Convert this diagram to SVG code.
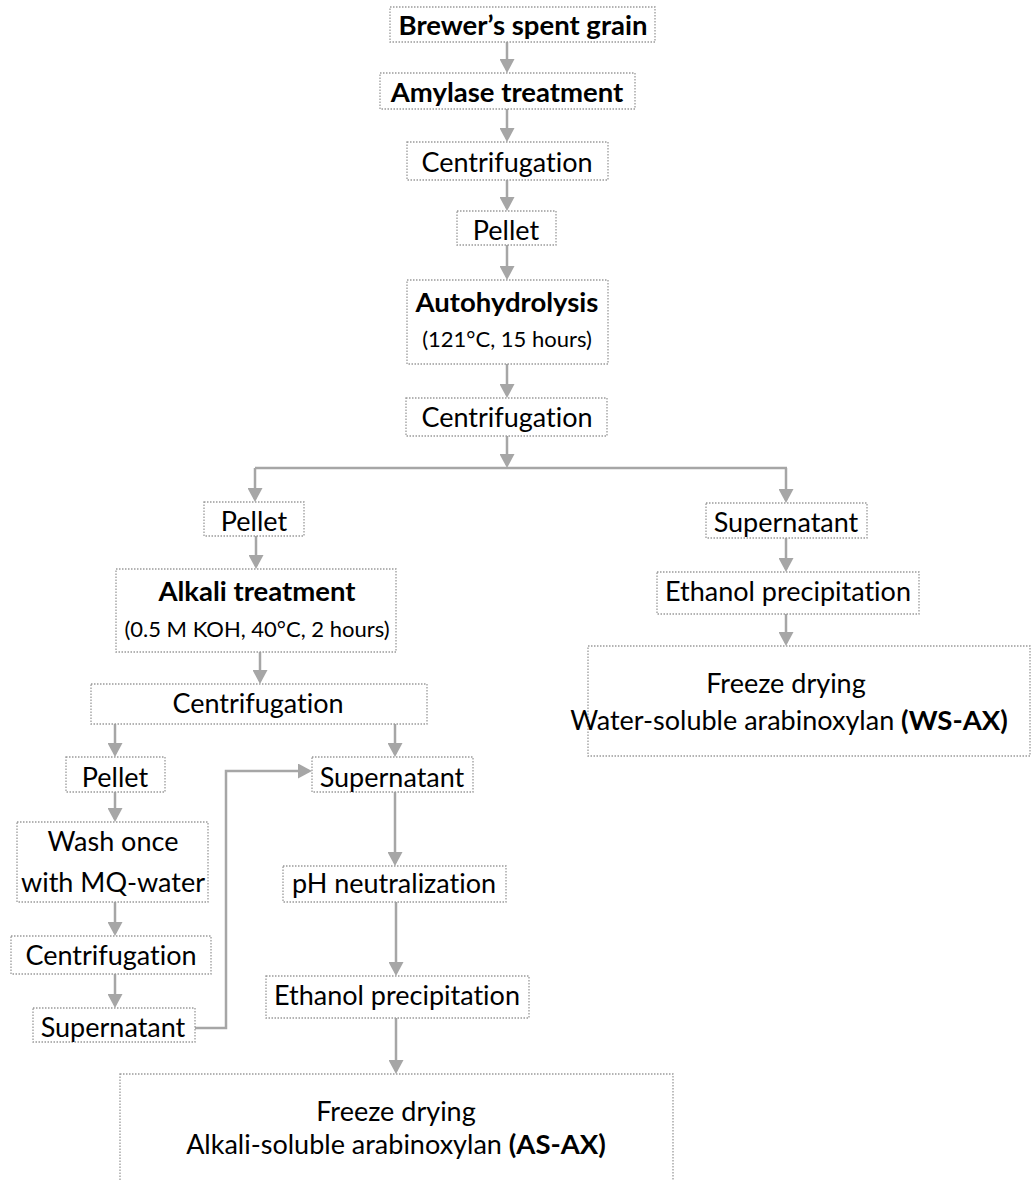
<svg xmlns="http://www.w3.org/2000/svg" width="1036" height="1180" viewBox="0 0 1036 1180">
<style>
.box{fill:#fff;stroke:#9a9a9a;stroke-width:1.3;stroke-dasharray:1.5 1.5}
text{font-family:Lato,"Liberation Sans",sans-serif;font-size:27px;fill:#000;text-anchor:middle;font-variant-ligatures:none}
.b{font-weight:bold;font-size:27.5px}
.s{font-size:22px}
.c{fill:none;stroke:#a6a6a6;stroke-width:2.5}
</style>
<defs>
<marker id="ah" markerUnits="userSpaceOnUse" markerWidth="15" markerHeight="15" refX="11" refY="7.5" orient="auto" viewBox="0 0 15 15">
<path d="M0,0 L14,7.5 L0,15 z" fill="#a6a6a6"/>
</marker>
</defs>
<rect width="1036" height="1180" fill="#fff"/>
<g id="connectors">
<path class="c" d="M507,42 V70" marker-end="url(#ah)"/>
<path class="c" d="M507,109 V139" marker-end="url(#ah)"/>
<path class="c" d="M507,180 V208" marker-end="url(#ah)"/>
<path class="c" d="M507,245 V277" marker-end="url(#ah)"/>
<path class="c" d="M507,364 V395" marker-end="url(#ah)"/>
<path class="c" d="M507,436 V465" marker-end="url(#ah)"/>
<path class="c" d="M255,468 H787"/>
<path class="c" d="M255,468 V499" marker-end="url(#ah)"/>
<path class="c" d="M786,468 V500" marker-end="url(#ah)"/>
<path class="c" d="M786,538 V569" marker-end="url(#ah)"/>
<path class="c" d="M786,614 V643" marker-end="url(#ah)"/>
<path class="c" d="M256,536 V566" marker-end="url(#ah)"/>
<path class="c" d="M260,652 V681" marker-end="url(#ah)"/>
<path class="c" d="M115,724 V754" marker-end="url(#ah)"/>
<path class="c" d="M395,724 V754" marker-end="url(#ah)"/>
<path class="c" d="M115,792 V819" marker-end="url(#ah)"/>
<path class="c" d="M115,902 V933" marker-end="url(#ah)"/>
<path class="c" d="M115,974 V1005" marker-end="url(#ah)"/>
<path class="c" d="M195,1028 H226 V771 H309" marker-end="url(#ah)"/>
<path class="c" d="M395,792 V863" marker-end="url(#ah)"/>
<path class="c" d="M396,902 V973" marker-end="url(#ah)"/>
<path class="c" d="M396,1018 V1071" marker-end="url(#ah)"/>
</g>
<g id="n1"><rect class="box" x="390" y="7" width="265" height="35"/><text class="b" x="523" y="35">Brewer’s spent grain</text></g>
<g id="n2"><rect class="box" x="380" y="73" width="255" height="36"/><text class="b" x="507" y="102">Amylase treatment</text></g>
<g id="n3"><rect class="box" x="407" y="142" width="201" height="38"/><text x="507" y="172">Centrifugation</text></g>
<g id="n4"><rect class="box" x="457" y="211" width="99" height="34"/><text x="506" y="240">Pellet</text></g>
<g id="n5"><rect class="box" x="407" y="280" width="201" height="84"/><text class="b" x="507" y="312">Autohydrolysis</text><text class="s" x="507" y="347">(121°C, 15 hours)</text></g>
<g id="n6"><rect class="box" x="406" y="398" width="201" height="38"/><text x="507" y="427">Centrifugation</text></g>
<g id="n7"><rect class="box" x="204" y="502" width="100" height="34"/><text x="254" y="531">Pellet</text></g>
<g id="n8"><rect class="box" x="116" y="569" width="280" height="83"/><text class="b" x="257" y="601">Alkali treatment</text><text class="s" x="257" y="637">(0.5 M KOH, 40°C, 2 hours)</text></g>
<g id="n9"><rect class="box" x="91" y="684" width="336" height="40"/><text x="258" y="713">Centrifugation</text></g>
<g id="n10"><rect class="box" x="66" y="757" width="99" height="35"/><text x="115" y="787">Pellet</text></g>
<g id="n11"><rect class="box" x="17" y="822" width="191" height="80"/><text x="113" y="851">Wash once</text><text x="113" y="892">with MQ-water</text></g>
<g id="n12"><rect class="box" x="11" y="936" width="200" height="38"/><text x="111" y="965">Centrifugation</text></g>
<g id="n13"><rect class="box" x="33" y="1008" width="162" height="34"/><text x="113" y="1037">Supernatant</text></g>
<g id="n14"><rect class="box" x="312" y="757" width="161" height="35"/><text x="392" y="787">Supernatant</text></g>
<g id="n15"><rect class="box" x="283" y="866" width="223" height="36"/><text x="394" y="893">pH neutralization</text></g>
<g id="n16"><rect class="box" x="266" y="976" width="263" height="42"/><text x="397" y="1005">Ethanol precipitation</text></g>
<g id="n17"><rect class="box" x="120" y="1074" width="553" height="130"/><text x="396" y="1121">Freeze drying</text><text x="396" y="1154">Alkali-soluble arabinoxylan <tspan class="b">(AS-AX)</tspan></text></g>
<g id="n18"><rect class="box" x="706" y="503" width="161" height="35"/><text x="786" y="532">Supernatant</text></g>
<g id="n19"><rect class="box" x="657" y="572" width="262" height="42"/><text x="788" y="601">Ethanol precipitation</text></g>
<g id="n20"><rect class="box" x="588" y="646" width="442" height="110"/><text x="786" y="693">Freeze drying</text><text x="789" y="730">Water-soluble arabinoxylan <tspan class="b">(WS-AX)</tspan></text></g>
</svg>
